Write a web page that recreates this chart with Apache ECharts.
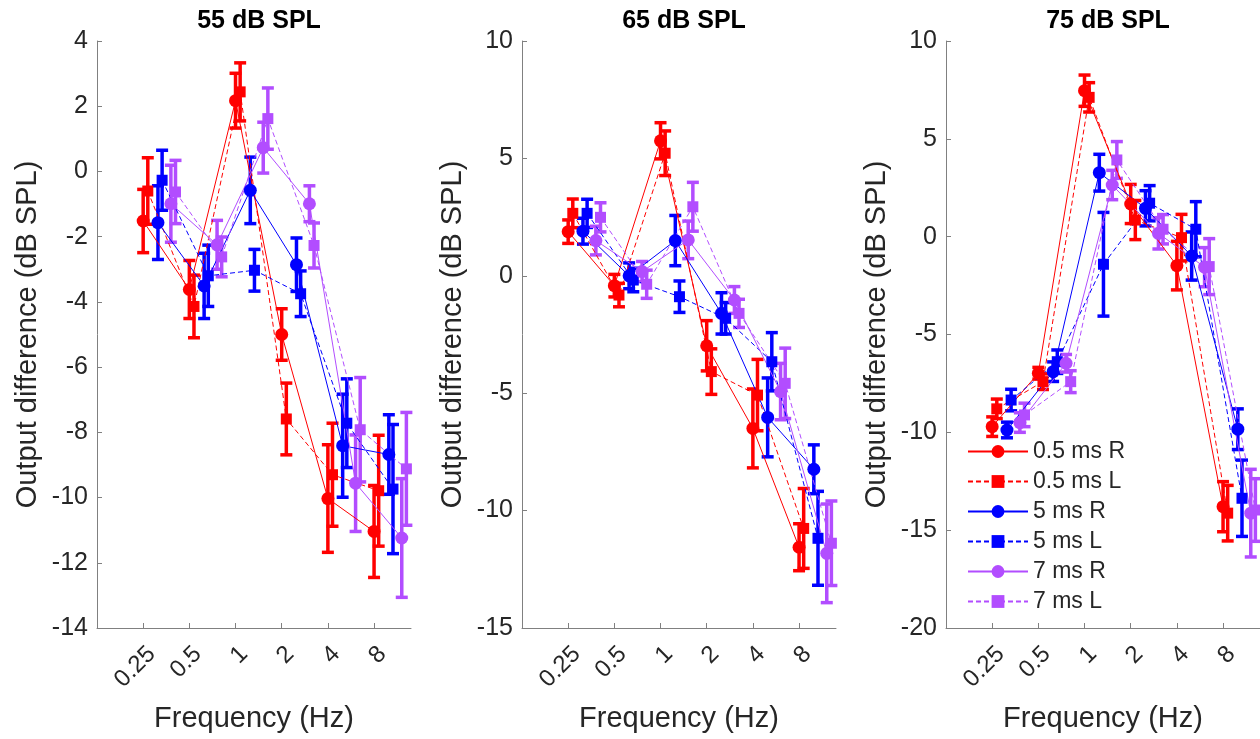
<!DOCTYPE html>
<html><head><meta charset="utf-8">
<script src="https://cdn.jsdelivr.net/npm/echarts@6/dist/echarts.min.js"></script>
<style>html,body{margin:0;padding:0;background:#fff}#c{width:1260px;height:739px}</style>
</head><body><div id="c"></div>
<script>
// ---- data ----
const freqs = [0.25, 0.5, 1, 2, 4, 8];
const freqLabels = ['0.25', '0.5', '1', '2', '4', '8'];
const seriesNames = ['0.5 ms R', '0.5 ms L', '5 ms R', '5 ms L', '7 ms R', '7 ms L'];
const levels = ['55 dB SPL', '65 dB SPL', '75 dB SPL'];
// horizontal jitter of each series (in octaves)
const jitter = [0, 0.1, 0.32, 0.41, 0.6, 0.7];

// 55 dB SPL
const m55_05R = [-1.52, -3.62, 2.17, -5.0, -10.03, -11.04];
const e55_05R = [0.97, 0.89, 0.84, 0.79, 1.65, 1.41];
const m55_05L = [-0.6, -4.14, 2.44, -7.59, -9.3, -9.79];
const e55_05L = [1.02, 0.96, 0.89, 1.1, 1.58, 1.7];
const m55_5R = [-1.57, -3.51, -0.58, -2.86, -8.41, -8.68];
const e55_5R = [1.13, 1.0, 1.02, 0.82, 1.58, 1.22];
const m55_5L = [-0.27, -3.2, -3.03, -3.75, -7.72, -9.74];
const e55_5L = [0.92, 0.94, 0.64, 0.7, 1.36, 1.98];
const m55_7R = [-0.99, -2.25, 0.73, -0.99, -9.56, -11.24];
const e55_7R = [1.18, 0.75, 0.78, 0.55, 1.48, 1.82];
const m55_7L = [-0.63, -2.62, 1.62, -2.27, -7.92, -9.12];
const e55_7L = [0.97, 0.61, 0.94, 0.69, 1.6, 1.73];

// 65 dB SPL
const m65_05R = [1.88, -0.42, 5.75, -2.98, -6.5, -11.56];
const e65_05R = [0.5, 0.48, 0.77, 1.07, 1.68, 1.0];
const m65_05L = [2.66, -0.82, 5.22, -4.08, -5.08, -10.76];
const e65_05L = [0.61, 0.5, 0.95, 0.97, 1.52, 1.7];
const m65_5R = [1.9, 0.0, 1.5, -1.6, -6.03, -8.24];
const e65_5R = [0.55, 0.55, 1.07, 0.88, 1.68, 1.04];
const m65_5L = [2.66, -0.18, -0.89, -1.81, -3.66, -11.18];
const e65_5L = [0.6, 0.5, 0.67, 0.67, 1.24, 2.0];
const m65_7R = [1.5, 0.18, 1.53, -1.03, -4.93, -11.82];
const e65_7R = [0.61, 0.43, 0.8, 0.57, 1.2, 2.1];
const m65_7L = [2.49, -0.36, 2.94, -1.6, -4.58, -11.39];
const e65_7L = [0.62, 0.6, 1.04, 0.6, 1.5, 1.8];

// 75 dB SPL
const m75_05R = [-9.71, -6.98, 7.46, 1.67, -1.48, -13.8];
const e75_05R = [0.5, 0.3, 0.8, 1.0, 1.24, 1.28];
const m75_05L = [-8.8, -7.41, 7.12, 0.85, -0.05, -14.13];
const e75_05L = [0.5, 0.4, 0.75, 1.0, 1.19, 1.42];
const m75_5R = [-9.88, -6.9, 3.27, 1.45, -0.99, -9.84];
const e75_5R = [0.4, 0.5, 0.94, 0.9, 1.23, 1.04];
const m75_5L = [-8.35, -6.39, -1.41, 1.71, 0.38, -13.37];
const e75_5L = [0.55, 0.6, 2.65, 0.9, 1.41, 1.95];
const m75_7R = [-9.5, -6.47, 2.64, 0.17, -1.56, -14.13];
const e75_7R = [0.5, 0.45, 0.75, 0.8, 1.0, 2.24];
const m75_7L = [-9.11, -7.41, 3.92, 0.38, -1.53, -13.97];
const e75_7L = [0.6, 0.56, 0.94, 0.75, 1.43, 1.6];

const yMin = [-14, -15, -20];
const yMax = [4, 10, 10];
const yStep = [2, 5, 5];

// ---- assembly ----
const means = [
  [m55_05R, m55_05L, m55_5R, m55_5L, m55_7R, m55_7L],
  [m65_05R, m65_05L, m65_5R, m65_5L, m65_7R, m65_7L],
  [m75_05R, m75_05L, m75_5R, m75_5L, m75_7R, m75_7L]
];
const errs = [
  [e55_05R, e55_05L, e55_5R, e55_5L, e55_7R, e55_7L],
  [e65_05R, e65_05L, e65_5R, e65_5L, e65_7R, e65_7L],
  [e75_05R, e75_05L, e75_5R, e75_5L, e75_7R, e75_7L]
];
const colors = ['#FF0000', '#FF0000', '#0000FF', '#0000FF', '#B24DFF', '#B24DFF'];
const dashed = [false, true, false, true, false, true];
const symbols = ['circle', 'rect', 'circle', 'rect', 'circle', 'rect'];
const FONT = 'Liberation Sans, Arial, Helvetica, sans-serif';
const TXT = '#262626';
const AX = '#808080';

const gridLefts = [97, 522, 946];
const grids = gridLefts.map(l => ({ left: l, width: 314, top: 41, height: 587 }));

const xAxes = [0, 1, 2].map(i => ({
  type: 'value', gridIndex: i, min: -3, max: 3.8, interval: 1,
  name: 'Frequency (Hz)', nameLocation: 'middle', nameGap: 76,
  nameTextStyle: { fontFamily: FONT, fontSize: 29, color: TXT },
  axisLine: { show: true, onZero: false, lineStyle: { color: AX, width: 1 } },
  axisTick: { show: true, inside: true, length: 5, lineStyle: { color: AX } },
  splitLine: { show: false },
  axisLabel: {
    rotate: 45, fontFamily: FONT, fontSize: 24, color: TXT, margin: 14,
    align: 'right', verticalAlign: 'top',
    showMaxLabel: false,
    formatter: v => {
      const k = freqs.findIndex(f => Math.abs(Math.log2(f) - v) < 1e-6);
      return k >= 0 ? freqLabels[k] : '';
    }
  }
}));

const yAxes = [0, 1, 2].map(i => ({
  type: 'value', gridIndex: i, min: yMin[i], max: yMax[i], interval: yStep[i],
  name: 'Output difference (dB SPL)', nameLocation: 'middle', nameGap: 55, nameRotate: 90,
  nameTextStyle: { fontFamily: FONT, fontSize: 29, color: TXT },
  axisLine: { show: true, onZero: false, lineStyle: { color: AX, width: 1 } },
  axisTick: { show: true, inside: true, length: 5, lineStyle: { color: AX } },
  splitLine: { show: false },
  axisLabel: { fontFamily: FONT, fontSize: 25, color: TXT, margin: 9 }
}));

const series = [];
for (let p = 0; p < 3; p++) {
  for (let s = 0; s < 6; s++) {
    const col = colors[s];
    const pts = freqs.map((f, k) => [Math.log2(f) + jitter[s], means[p][s][k]]);
    const bars = freqs.map((f, k) => [Math.log2(f) + jitter[s], means[p][s][k] - errs[p][s][k], means[p][s][k] + errs[p][s][k]]);
    series.push({
      type: 'custom', xAxisIndex: p, yAxisIndex: p, silent: true,
      encode: { x: 0, y: [1, 2] },
      data: bars,
      renderItem: (params, api) => {
        const x = api.value(0), lo = api.value(1), hi = api.value(2);
        const a = api.coord([x, hi]), b = api.coord([x, lo]);
        const hw = 6;
        const st = { stroke: col, lineWidth: 3.5 };
        return { type: 'group', children: [
          { type: 'line', shape: { x1: a[0], y1: a[1], x2: b[0], y2: b[1] }, style: st },
          { type: 'line', shape: { x1: a[0] - hw, y1: a[1], x2: a[0] + hw, y2: a[1] }, style: st },
          { type: 'line', shape: { x1: b[0] - hw, y1: b[1], x2: b[0] + hw, y2: b[1] }, style: st }
        ] };
      }
    });
    series.push({
      type: 'line', name: seriesNames[s], xAxisIndex: p, yAxisIndex: p,
      data: pts,
      symbol: symbols[s], symbolSize: symbols[s] === 'circle' ? 13 : 11,
      showAllSymbol: true,
      lineStyle: { color: col, width: 1, type: dashed[s] ? [5, 3] : 'solid' },
      itemStyle: { color: col, borderWidth: 0 },
      emphasis: { disabled: true }
    });
  }
}

const titles = levels.map((t, i) => ({
  text: t, left: gridLefts[i] + 157, top: 4, textAlign: 'center',
  textStyle: { fontFamily: FONT, fontSize: 25, fontWeight: 'bold', color: '#000' }
}));

const chart = echarts.init(document.getElementById('c'));
chart.setOption({
  animation: false,
  backgroundColor: '#fff',
  title: titles,
  grid: grids,
  xAxis: xAxes,
  yAxis: yAxes,
  legend: {
    data: seriesNames, orient: 'vertical', left: 962, top: 435,
    itemWidth: 60, itemHeight: 16, itemGap: 7,
    textStyle: { fontFamily: FONT, fontSize: 23, color: TXT, lineHeight: 22 },
    itemStyle: { borderWidth: 0 },
    selectedMode: false
  },
  series: series
});
</script></body></html>
